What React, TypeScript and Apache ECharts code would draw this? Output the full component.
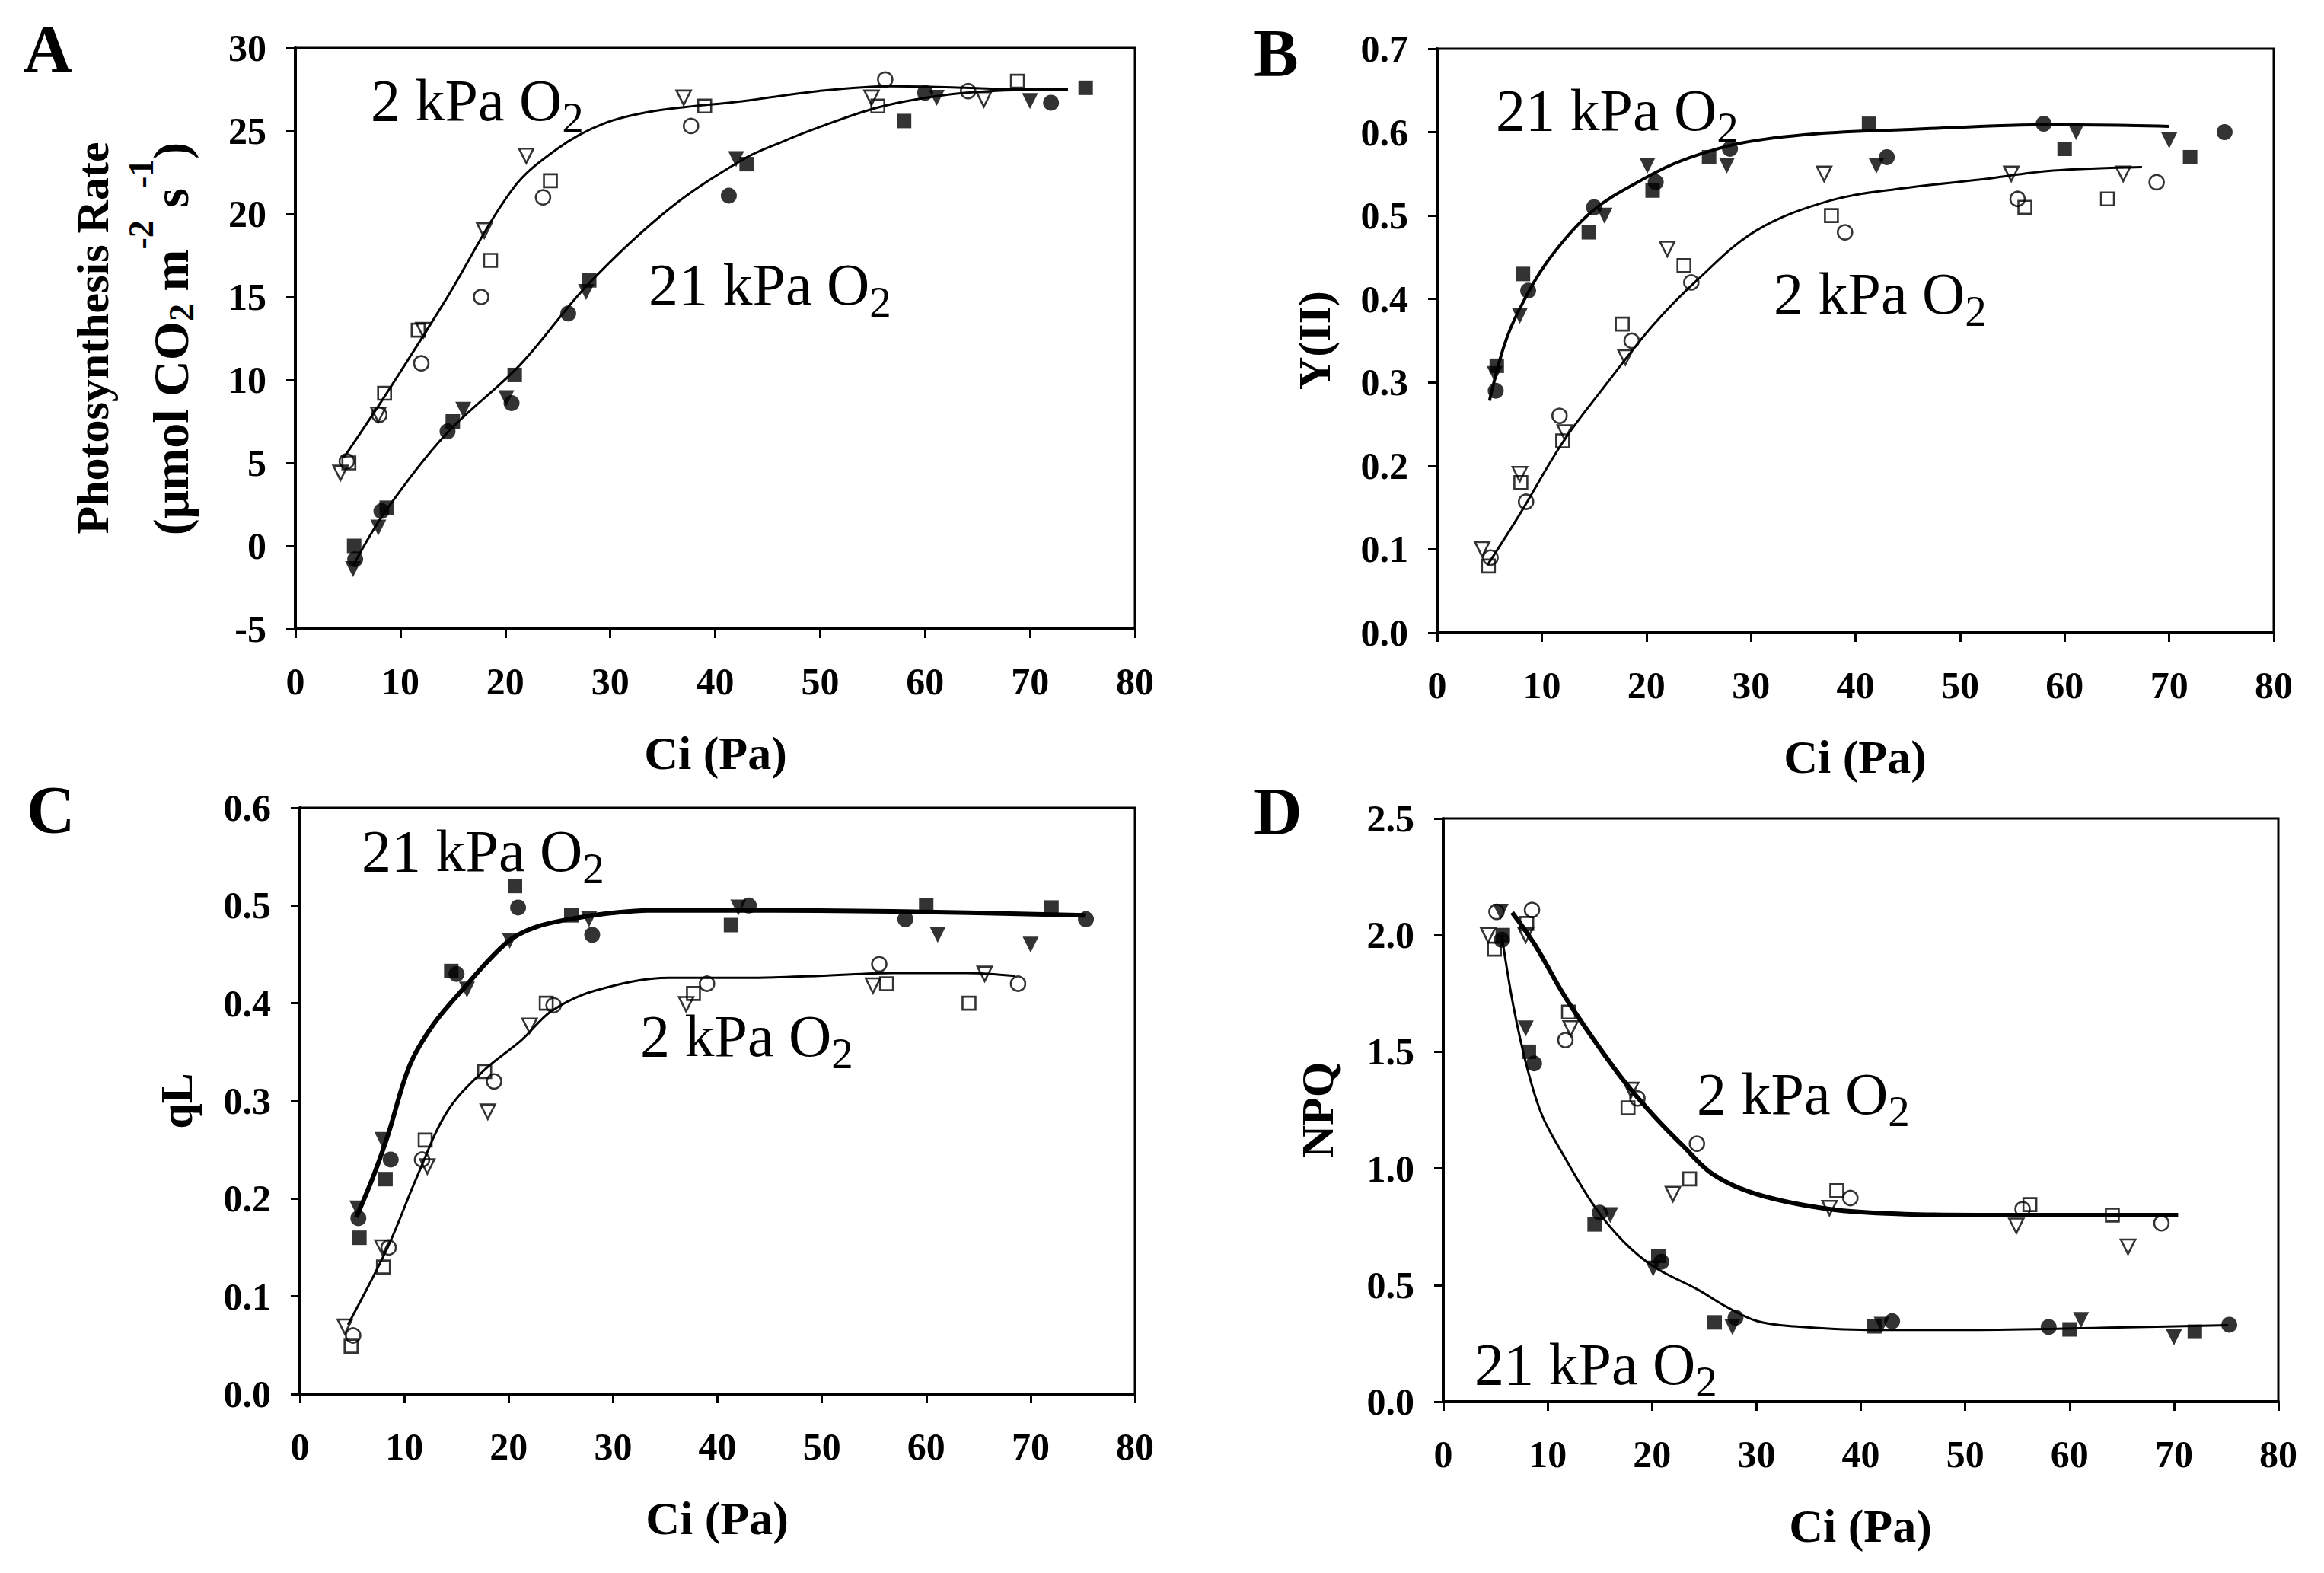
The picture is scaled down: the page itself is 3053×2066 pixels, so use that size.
import React, { useEffect, useRef } from "react";
import * as echarts from "echarts";

// ---------- Ci values (Pa) of each measurement set ----------
const CI_LOW_TRI = [4.3, 7.9, 12.2, 18.0, 22.0, 37.0, 54.9, 65.6];
const CI_LOW_SET1 = [5.1, 8.5, 11.7, 18.6, 24.3, 39.0, 55.5, 68.8];
const CI_LOW_SET2 = [4.9, 8.0, 12.0, 17.7, 23.6, 37.7, 56.2, 64.1];
const CI_HIGH_TRI = [5.5, 7.9, 16.0, 20.1, 27.7, 42.0, 61.1, 70.0];
const CI_HIGH_SET1 = [5.6, 8.7, 15.0, 20.9, 28.0, 43.0, 58.0, 75.3];
const CI_HIGH_SET2 = [5.7, 8.2, 14.5, 20.6, 26.0, 41.3, 60.0, 72.0];

// ---------- Panel A: photosynthesis rate ----------
const A_LOW_TRI = [4.4, 7.9, 13.0, 19.0, 23.5, 27.0, 27.0, 26.9];
const A_LOW_SQ = [5.0, 9.2, 13.0, 17.2, 22.0, 26.5, 26.5, 28.0]; // on CI_LOW_SET1
const A_LOW_CIR = [5.1, 7.9, 11.0, 15.0, 21.0, 25.3, 28.1, 27.4]; // on CI_LOW_SET2
const A_HIGH_TRI = [-1.4, 1.1, 8.2, 8.9, 15.3, 23.3, 27.0, 26.8];
const A_HIGH_SQ = [0.0, 2.3, 7.5, 10.3, 16.0, 23.0, 25.6, 27.6]; // on CI_HIGH_SET1
const A_HIGH_CIR = [-0.8, 2.1, 6.9, 8.6, 14.0, 21.1, 27.3, 26.7]; // on CI_HIGH_SET2
const A_LOW_FIT_X = [4.6, 8.6, 14.3, 20.7, 24.9, 29.2, 34.2, 42.7, 49.8, 56.8, 63.9, 68.9, 73.6];
const A_LOW_FIT_Y = [5.3, 9.1, 14.8, 21.5, 23.9, 25.4, 26.2, 26.8, 27.4, 27.7, 27.6, 27.5, 27.5];
const A_HIGH_FIT_X = [5.5, 8.6, 14.3, 21.4, 27.8, 35.6, 42.7, 46.2, 49.8, 55.4, 61.1, 66.1, 73.6];
const A_HIGH_FIT_Y = [-1.2, 2.1, 6.7, 10.9, 15.7, 20.3, 23.3, 24.3, 25.2, 26.4, 27.1, 27.4, 27.5];

// ---------- Panel B: Y(II) ----------
const B_LOW_TRI = [0.10, 0.19, 0.24, 0.33, 0.46, 0.55, 0.55, 0.55];
const B_LOW_CIR = [0.09, 0.157, 0.26, 0.35, 0.42, 0.48, 0.52, 0.54];
const B_LOW_SQ = [0.08, 0.18, 0.23, 0.37, 0.44, 0.50, 0.51, 0.52];
const B_HIGH_TRI = [0.31, 0.38, 0.50, 0.56, 0.56, 0.56, 0.60, 0.59];
const B_HIGH_CIR = [0.29, 0.41, 0.51, 0.54, 0.58, 0.57, 0.61, 0.60];
const B_HIGH_SQ = [0.32, 0.43, 0.48, 0.53, 0.57, 0.61, 0.58, 0.57];
const B_HIGH_FIT_X = [5.0, 6.4, 7.8, 10.6, 14.9, 19.9, 23.4, 29.1, 36.2, 44.7, 58.9, 70.0];
const B_HIGH_FIT_Y = [0.278, 0.344, 0.386, 0.446, 0.506, 0.545, 0.566, 0.587, 0.598, 0.603, 0.609, 0.607];
const B_LOW_FIT_X = [4.8, 7.8, 12.1, 16.3, 20.6, 24.8, 30.5, 37.6, 44.7, 51.8, 58.9, 67.4];
const B_LOW_FIT_Y = [0.081, 0.14, 0.23, 0.30, 0.368, 0.422, 0.482, 0.518, 0.533, 0.543, 0.554, 0.558];

// ---------- Panel C: qL ----------
const C_LOW_TRI = [0.069, 0.15, 0.233, 0.289, 0.377, 0.399, 0.418, 0.43];
const C_LOW_CIR = [0.06, 0.15, 0.24, 0.32, 0.398, 0.42, 0.44, 0.42];
const C_LOW_SQ = [0.049, 0.13, 0.26, 0.33, 0.40, 0.41, 0.42, 0.40];
const C_HIGH_TRI = [0.19, 0.26, 0.414, 0.464, 0.486, 0.498, 0.47, 0.46];
const C_HIGH_CIR = [0.18, 0.24, 0.43, 0.498, 0.47, 0.50, 0.486, 0.486];
const C_HIGH_SQ = [0.16, 0.22, 0.433, 0.52, 0.49, 0.48, 0.50, 0.498];
const C_HIGH_FIT_X = [5.4, 7.0, 8.4, 10.5, 12.7, 15.5, 19.8, 22.6, 26.9, 30.5, 33.3, 42.6, 56.8, 75.3];
const C_HIGH_FIT_Y = [0.181, 0.222, 0.264, 0.336, 0.377, 0.413, 0.462, 0.478, 0.488, 0.493, 0.495, 0.495, 0.494, 0.49];
const C_LOW_FIT_X = [4.6, 8.4, 11.2, 14.1, 17.6, 21.2, 24.1, 28.3, 35.4, 42.6, 49.7, 56.8, 63.9, 68.5];
const C_LOW_FIT_Y = [0.071, 0.15, 0.222, 0.289, 0.331, 0.362, 0.392, 0.413, 0.426, 0.426, 0.428, 0.431, 0.431, 0.428];

// ---------- Panel D: NPQ ----------
const D_LOW_TRI = [2.0, 2.0, 1.6, 1.336, 0.89, 0.83, 0.754, 0.664];
const D_LOW_CIR = [2.1, 2.108, 1.55, 1.30, 1.106, 0.873, 0.825, 0.765];
const D_LOW_SQ = [1.94, 2.05, 1.67, 1.26, 0.955, 0.905, 0.845, 0.80];
const D_HIGH_TRI = [2.1, 1.6, 0.80, 0.57, 0.32, 0.33, 0.35, 0.276];
const D_HIGH_CIR = [1.98, 1.45, 0.81, 0.60, 0.36, 0.345, 0.32, 0.33];
const D_HIGH_SQ = [2.0, 1.5, 0.76, 0.625, 0.34, 0.323, 0.31, 0.30];
const D_LOW_FIT_X = [6.6, 8.8, 11.6, 14.5, 17.3, 20.2, 23.0, 25.8, 30.0, 37.1, 44.2, 51.3, 58.4, 70.4];
const D_LOW_FIT_Y = [2.097, 1.957, 1.74, 1.547, 1.375, 1.224, 1.095, 0.976, 0.89, 0.825, 0.804, 0.80, 0.80, 0.80];
const D_HIGH_FIT_X = [5.6, 6.7, 8.1, 9.5, 11.6, 14.5, 17.3, 20.2, 24.4, 27.2, 30.1, 33.6, 40.7, 51.3, 65.5, 75.2];
const D_HIGH_FIT_Y = [2.0, 1.70, 1.42, 1.224, 1.05, 0.836, 0.685, 0.578, 0.48, 0.405, 0.345, 0.323, 0.308, 0.308, 0.319, 0.328];

// ---------- axes ----------
const X_MIN = 0, X_MAX = 80, X_STEP = 10;
const Y_AXES = [
  { min: -5, max: 30, interval: 5, digits: 0 },
  { min: 0, max: 0.7, interval: 0.1, digits: 1 },
  { min: 0, max: 0.6, interval: 0.1, digits: 1 },
  { min: 0, max: 2.5, interval: 0.5, digits: 1 },
];
const PANEL_LETTERS = ["A", "B", "C", "D"];
const X_TITLE = "Ci (Pa)";

const FONT = "Liberation Serif";
const W = 3053, H = 2066;
const GRIDS = [
  { left: 388, top: 63, width: 1103, height: 763 },
  { left: 1888, top: 64, width: 1099, height: 767 },
  { left: 394, top: 1061, width: 1097, height: 770 },
  { left: 1896, top: 1075, width: 1097, height: 766 },
];

const pts = (xs: number[], ys: number[]) => xs.map((x, i) => [x, ys[i]]);

function scatter(idx: number, xs: number[], ys: number[], shape: string, filled: boolean) {
  const isTri = shape === "triangle";
  return {
    type: "scatter",
    xAxisIndex: idx,
    yAxisIndex: idx,
    data: pts(xs, ys),
    symbol: shape,
    symbolRotate: isTri ? 180 : 0,
    symbolSize: filled ? (shape === "rect" ? 19 : 21) : (shape === "rect" ? 17 : 19),
    itemStyle: filled
      ? { color: "#000", borderWidth: 0 }
      : { color: "transparent", borderColor: "#000", borderWidth: 2.6 },
    silent: true,
    z: 4,
  };
}

function fit(idx: number, xs: number[], ys: number[], width: number) {
  return {
    type: "line",
    xAxisIndex: idx,
    yAxisIndex: idx,
    data: pts(xs, ys),
    smooth: 0.35,
    showSymbol: false,
    symbol: "none",
    lineStyle: { color: "#000", width },
    silent: true,
    z: 3,
  };
}

function anno(x: number, baseline: number, main: string) {
  return {
    type: "text",
    x,
    y: baseline - 26,
    silent: true,
    style: {
      text: `{m|${main} O}{s|2}`,
      align: "left",
      verticalAlign: "middle",
      fill: "#000",
      rich: {
        m: { fontSize: 78, fontFamily: FONT, fontWeight: "normal", fill: "#000" },
        s: { fontSize: 57, fontFamily: FONT, fontWeight: "normal", fill: "#000", padding: [46, 0, 0, 0] },
      },
    },
  };
}

function letter(x: number, baseline: number, t: string) {
  return {
    type: "text",
    x,
    y: baseline - 30,
    silent: true,
    style: { text: t, fontSize: 88, fontWeight: "bold", fontFamily: FONT, fill: "#000", align: "left", verticalAlign: "middle" },
  };
}

function xTitle(cx: number, baseline: number) {
  return {
    type: "text",
    x: cx,
    y: baseline - 21,
    silent: true,
    style: { text: X_TITLE, fontSize: 62, fontWeight: "bold", fontFamily: FONT, fill: "#000", align: "center", verticalAlign: "middle" },
  };
}

function yTitle(cx: number, cy: number, t: string, size = 60) {
  return {
    type: "text",
    x: cx,
    y: cy,
    rotation: Math.PI / 2,
    silent: true,
    style: { text: t, fontSize: size, fontWeight: "bold", fontFamily: FONT, fill: "#000", align: "center", verticalAlign: "middle" },
  };
}

function buildOption() {
  const grid = GRIDS.map((g) => ({ ...g, show: true, borderColor: "#000", borderWidth: 3, backgroundColor: "transparent" }));
  const xAxis = GRIDS.map((_, i) => ({
    type: "value",
    gridIndex: i,
    min: X_MIN,
    max: X_MAX,
    interval: X_STEP,
    splitLine: { show: false },
    axisLine: { show: true, onZero: false, lineStyle: { color: "#000", width: 4 } },
    axisTick: { show: true, inside: false, length: 12, lineStyle: { color: "#000", width: 3 } },
    axisLabel: { show: true, margin: 44, fontSize: 50, fontWeight: "bold", fontFamily: FONT, color: "#000" },
  }));
  const yAxis = Y_AXES.map((a, i) => ({
    type: "value",
    gridIndex: i,
    min: a.min,
    max: a.max,
    interval: a.interval,
    splitLine: { show: false },
    axisLine: { show: true, onZero: false, lineStyle: { color: "#000", width: 4 } },
    axisTick: { show: true, inside: false, length: 12, lineStyle: { color: "#000", width: 3 } },
    axisLabel: {
      show: true,
      margin: 38,
      fontSize: 50,
      fontWeight: "bold",
      fontFamily: FONT,
      color: "#000",
      formatter: (v: number) => v.toFixed(a.digits),
    },
  }));

  const series: any[] = [
    // A
    fit(0, A_LOW_FIT_X, A_LOW_FIT_Y, 3),
    fit(0, A_HIGH_FIT_X, A_HIGH_FIT_Y, 3),
    scatter(0, CI_LOW_TRI, A_LOW_TRI, "triangle", false),
    scatter(0, CI_LOW_SET1, A_LOW_SQ, "rect", false),
    scatter(0, CI_LOW_SET2, A_LOW_CIR, "circle", false),
    scatter(0, CI_HIGH_TRI, A_HIGH_TRI, "triangle", true),
    scatter(0, CI_HIGH_SET1, A_HIGH_SQ, "rect", true),
    scatter(0, CI_HIGH_SET2, A_HIGH_CIR, "circle", true),
    // B
    fit(1, B_HIGH_FIT_X, B_HIGH_FIT_Y, 4),
    fit(1, B_LOW_FIT_X, B_LOW_FIT_Y, 3),
    scatter(1, CI_LOW_TRI, B_LOW_TRI, "triangle", false),
    scatter(1, CI_LOW_SET1, B_LOW_CIR, "circle", false),
    scatter(1, CI_LOW_SET2, B_LOW_SQ, "rect", false),
    scatter(1, CI_HIGH_TRI, B_HIGH_TRI, "triangle", true),
    scatter(1, CI_HIGH_SET1, B_HIGH_CIR, "circle", true),
    scatter(1, CI_HIGH_SET2, B_HIGH_SQ, "rect", true),
    // C
    fit(2, C_HIGH_FIT_X, C_HIGH_FIT_Y, 6),
    fit(2, C_LOW_FIT_X, C_LOW_FIT_Y, 3),
    scatter(2, CI_LOW_TRI, C_LOW_TRI, "triangle", false),
    scatter(2, CI_LOW_SET1, C_LOW_CIR, "circle", false),
    scatter(2, CI_LOW_SET2, C_LOW_SQ, "rect", false),
    scatter(2, CI_HIGH_TRI, C_HIGH_TRI, "triangle", true),
    scatter(2, CI_HIGH_SET1, C_HIGH_CIR, "circle", true),
    scatter(2, CI_HIGH_SET2, C_HIGH_SQ, "rect", true),
    // D
    fit(3, D_LOW_FIT_X, D_LOW_FIT_Y, 6),
    fit(3, D_HIGH_FIT_X, D_HIGH_FIT_Y, 3),
    scatter(3, CI_LOW_TRI, D_LOW_TRI, "triangle", false),
    scatter(3, CI_LOW_SET1, D_LOW_CIR, "circle", false),
    scatter(3, CI_LOW_SET2, D_LOW_SQ, "rect", false),
    scatter(3, CI_HIGH_TRI, D_HIGH_TRI, "triangle", true),
    scatter(3, CI_HIGH_SET1, D_HIGH_CIR, "circle", true),
    scatter(3, CI_HIGH_SET2, D_HIGH_SQ, "rect", true),
  ];

  const graphic: any[] = [
    letter(31, 93, PANEL_LETTERS[0]),
    letter(1647, 99, PANEL_LETTERS[1]),
    letter(35, 1093, PANEL_LETTERS[2]),
    letter(1647, 1095, PANEL_LETTERS[3]),
    anno(487, 157, "2 kPa"),
    anno(852, 399, "21 kPa"),
    anno(1965, 170, "21 kPa"),
    anno(2330, 411, "2 kPa"),
    anno(475, 1143, "21 kPa"),
    anno(841, 1386, "2 kPa"),
    anno(2229, 1462, "2 kPa"),
    anno(1937, 1817, "21 kPa"),
    xTitle(940, 1010),
    xTitle(2437, 1015),
    xTitle(942, 2015),
    xTitle(2444, 2025),
    yTitle(122, 444, "Photosynthesis Rate", 60),
    {
      type: "text",
      x: 224,
      y: 445,
      rotation: Math.PI / 2,
      silent: true,
      style: {
        text: "{m|(μmol CO}{sb|2}{m| m}{sp|-2}{m| s}{sp|-1}{m|)}",
        align: "center",
        verticalAlign: "middle",
        fill: "#000",
        rich: {
          m: { fontSize: 66, fontWeight: "bold", fontFamily: FONT, fill: "#000" },
          sb: { fontSize: 46, fontWeight: "bold", fontFamily: FONT, fill: "#000", padding: [28, 0, 0, 0] },
          sp: { fontSize: 46, fontWeight: "bold", fontFamily: FONT, fill: "#000", padding: [0, 0, 78, 0] },
        },
      },
    },
    yTitle(1727, 447, "Y(II)", 60),
    yTitle(232, 1446, "qL", 60),
    yTitle(1731, 1458, "NPQ", 60),
  ];

  return {
    animation: false,
    backgroundColor: "#fff",
    grid,
    xAxis,
    yAxis,
    series,
    graphic,
  };
}

export default function App() {
  const ref = useRef<HTMLDivElement>(null);
  useEffect(() => {
    document.body.style.margin = "0";
    if (!ref.current) return;
    const chart = echarts.init(ref.current, undefined, { renderer: "svg" });
    chart.setOption(buildOption() as any);
    return () => chart.dispose();
  }, []);
  return <div ref={ref} style={{ width: W, height: H, background: "#fff" }} />;
}
